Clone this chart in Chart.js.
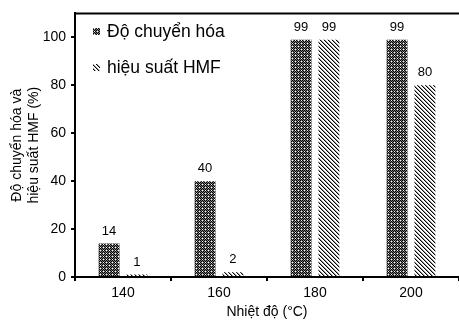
<!DOCTYPE html>
<html>
<head>
<meta charset="utf-8">
<script src="https://cdn.jsdelivr.net/npm/chart.js@4/dist/chart.umd.min.js"></script>
<style>
  html, body { margin: 0; padding: 0; background: #fff; }
  #wrap { width: 459px; height: 321px; }
</style>
</head>
<body>
<div id="wrap"><canvas id="chart"></canvas></div>
<script>
// Data
const temperatures = ['140', '160', '180', '200'];
const conversion = [14, 40, 99, 99];   // Độ chuyển hóa
const hmfYield = [1, 2, 99, 80];        // hiệu suất HMF
const yTicks = [0, 20, 40, 60, 80, 100];

const FONT = "'Liberation Sans', Arial, sans-serif";

// Dense plaid pattern for the conversion bars
function makePlaid() {
    const c = document.createElement('canvas');
    c.width = 6; c.height = 6;
    const g = c.getContext('2d');
    for (let y = 0; y < 6; y++) {
        for (let x = 0; x < 6; x++) {
            let col;
            if (x % 3 === 1 && y % 3 === 1) col = '#ffffff';
            else if ((x + y) % 2 === 0) col = '#000000';
            else col = '#7a7a7a';
            g.fillStyle = col;
            g.fillRect(x, y, 1, 1);
        }
    }
    return g.createPattern(c, 'repeat');
}

// Diagonal hatching for the yield bars
function makeHatch() {
    const c = document.createElement('canvas');
    c.width = 4; c.height = 4;
    const g = c.getContext('2d');
    g.fillStyle = '#fff';
    g.fillRect(0, 0, 4, 4);
    for (let y = 0; y < 4; y++) {
        for (let x = 0; x < 4; x++) {
            const d = ((x - y) % 4 + 4) % 4;
            if (d === 0) { g.fillStyle = '#000'; g.fillRect(x, y, 1, 1); }
            else if (d === 1) { g.fillStyle = '#9a9a9a'; g.fillRect(x, y, 1, 1); }
        }
    }
    return g.createPattern(c, 'repeat');
}

const plaid = makePlaid();
const hatch = makeHatch();

// Value labels above the bars
const valueLabels = {
    id: 'valueLabels',
    afterDatasetsDraw(chart) {
        const ctx = chart.ctx;
        ctx.save();
        ctx.font = '13px ' + FONT;
        ctx.fillStyle = '#000';
        ctx.textAlign = 'center';
        ctx.textBaseline = 'bottom';
        chart.data.datasets.forEach((ds, i) => {
            chart.getDatasetMeta(i).data.forEach((bar, j) => {
                ctx.fillText(ds.data[j], bar.x, bar.y - 6);
            });
        });
        ctx.restore();
    }
};

// Top frame line and legend inside the plot
const frameAndLegend = {
    id: 'frameAndLegend',
    afterDraw(chart) {
        const ctx = chart.ctx;
        const area = chart.chartArea;
        ctx.save();
        ctx.strokeStyle = '#000';
        ctx.lineWidth = 2;
        ctx.beginPath();
        ctx.moveTo(area.left - 1, area.top);
        ctx.lineTo(area.right, area.top);
        ctx.stroke();

        ctx.font = '17.5px ' + FONT;
        ctx.textBaseline = 'middle';
        const rows = [32, 68];
        chart.data.datasets.forEach((ds, i) => {
            ctx.fillStyle = ds.backgroundColor;
            ctx.fillRect(area.left + 18, rows[i] - 4, 7, 7);
            ctx.fillStyle = '#000';
            ctx.fillText(ds.label, area.left + 32, rows[i]);
        });
        ctx.restore();
    }
};

new Chart(document.getElementById('chart'), {
    type: 'bar',
    data: {
        labels: temperatures,
        datasets: [
            {
                label: 'Độ chuyển hóa',
                data: conversion,
                backgroundColor: plaid,
                borderWidth: 0,
                categoryPercentage: 0.58,
                barPercentage: 0.75
            },
            {
                label: 'hiệu suất HMF',
                data: hmfYield,
                backgroundColor: hatch,
                borderWidth: 0,
                categoryPercentage: 0.58,
                barPercentage: 0.75
            }
        ]
    },
    options: {
        responsive: true,
        maintainAspectRatio: false,
        animation: false,
        layout: { padding: { top: 11, right: 0, left: 0, bottom: 0 } },
        plugins: {
            legend: { display: false },
            tooltip: { enabled: false }
        },
        scales: {
            x: {
                afterFit(scale) { scale.height = 44; },
                border: { display: true, color: '#000', width: 2 },
                grid: {
                    display: true,
                    drawOnChartArea: false,
                    color: '#000',
                    lineWidth: 2,
                    tickLength: 4
                },
                ticks: {
                    color: '#000',
                    font: { family: FONT, size: 14 },
                    padding: 4
                },
                title: {
                    display: true,
                    text: 'Nhiệt độ (°C)',
                    color: '#000',
                    font: { family: FONT, size: 14 },
                    padding: { top: 3, bottom: 0 }
                }
            },
            y: {
                min: 0,
                max: 110,
                afterFit(scale) { scale.width = 75; },
                afterBuildTicks(scale) {
                    scale.ticks = yTicks.map(v => ({ value: v }));
                },
                border: { display: true, color: '#000', width: 2 },
                grid: {
                    display: true,
                    drawOnChartArea: false,
                    color: '#000',
                    lineWidth: 2,
                    tickLength: 4
                },
                ticks: {
                    color: '#000',
                    font: { family: FONT, size: 14 },
                    padding: 5
                },
                title: {
                    display: true,
                    text: ['Độ chuyển hóa và', 'hiệu suất HMF (%)'],
                    color: '#000',
                    font: { family: FONT, size: 14, lineHeight: 1.2 },
                    padding: { top: 9, bottom: 0 }
                }
            }
        }
    },
    plugins: [valueLabels, frameAndLegend]
});
</script>
</body>
</html>
